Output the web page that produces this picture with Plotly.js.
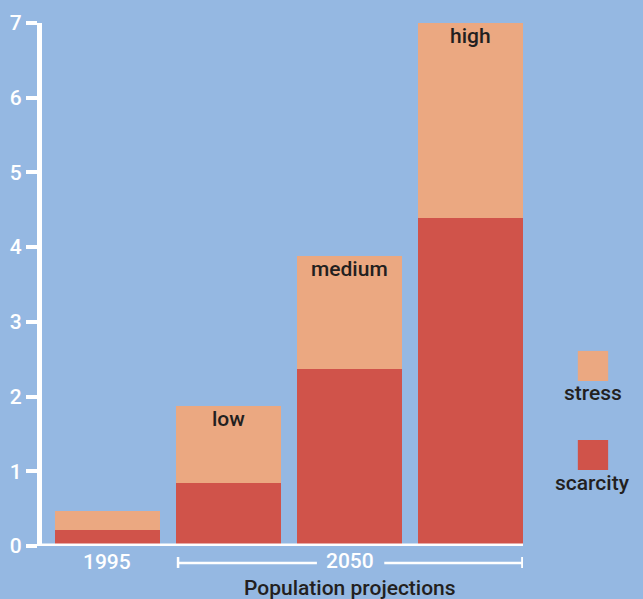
<!DOCTYPE html>
<html>
<head>
<meta charset="utf-8">
<script src="https://cdn.plot.ly/plotly-3.0.1.min.js"></script>
<style>html,body{margin:0;padding:0;background:#95b8e2;}#chart{width:643px;height:599px;}</style>
</head>
<body>
<div id="chart"></div>
<script>
// Data
var categories = ['1995', 'low', 'medium', 'high'];
var scarcity = [0.21, 0.84, 2.37, 4.39];
var stress = [0.26, 1.04, 1.51, 2.61];
var barLabels = ['', 'low', 'medium', 'high'];
var yTicks = [0, 1, 2, 3, 4, 5, 6, 7];

var bg = '#95b8e2';
var cScar = '#d0534a';
var cStress = '#eba881';
var dark = '#231f20';
var FONT = 'Roboto, "Noto Sans", sans-serif';

var xIdx = categories.map(function(c, i){ return i; });

var traces = [
  {type: 'bar', x: xIdx, y: scarcity, name: 'scarcity', marker: {color: cScar, line: {width: 0}}, width: 0.868, hoverinfo: 'none'},
  {type: 'bar', x: xIdx, y: stress, name: 'stress', marker: {color: cStress, line: {width: 0}}, width: 0.868, hoverinfo: 'none'}
];

var annotations = [];
xIdx.forEach(function(i){
  if (barLabels[i]) {
    annotations.push({x: i, y: scarcity[i] + stress[i], xref: 'x', yref: 'y', text: barLabels[i],
      showarrow: false, xanchor: 'center', yanchor: 'top', yshift: 1, font: {family: FONT, size: 21, weight: 500, color: dark}});
  }
});
annotations.push({x: 0, xref: 'x', y: -0.0300, yref: 'paper', text: categories[0], showarrow: false,
  xanchor: 'center', yanchor: 'middle', font: {family: FONT, size: 21, weight: 500, color: '#ffffff'}});
annotations.push({x: 2.0, xref: 'x', y: -0.0290, yref: 'paper', text: '2050', showarrow: false,
  xanchor: 'center', yanchor: 'middle', font: {family: FONT, size: 21, weight: 500, color: '#ffffff'}});
annotations.push({x: 2.0, xref: 'x', y: -0.0800, yref: 'paper', text: 'Population projections', showarrow: false,
  xanchor: 'center', yanchor: 'middle', font: {family: FONT, size: 21, weight: 500, color: dark}});
annotations.push({x: 1.1455, xref: 'paper', y: 0.2925, yref: 'paper', text: 'stress', showarrow: false,
  xanchor: 'center', yanchor: 'middle', font: {family: FONT, size: 21, weight: 500, color: dark}});
annotations.push({x: 1.1455, xref: 'paper', y: 0.1205, yref: 'paper', text: 'scarcity', showarrow: false,
  xanchor: 'center', yanchor: 'middle', font: {family: FONT, size: 21, weight: 500, color: dark}});

var white = '#ffffff';
var shapes = [
  // baseline
  {type: 'line', xref: 'paper', yref: 'y', x0: -0.004, x1: 1.0, y0: 0, y1: 0, line: {color: white, width: 5}, layer: 'above'},
  // 2050 bracket
  {type: 'line', xref: 'x', yref: 'paper', x0: 0.583, x1: 1.729, y0: -0.0325, y1: -0.0325, line: {color: white, width: 2.5}},
  {type: 'line', xref: 'x', yref: 'paper', x0: 2.285, x1: 3.425, y0: -0.0325, y1: -0.0325, line: {color: white, width: 2.5}},
  {type: 'line', xref: 'x', yref: 'paper', x0: 0.583, x1: 0.583, y0: -0.021, y1: -0.042, line: {color: white, width: 2.5}},
  {type: 'line', xref: 'x', yref: 'paper', x0: 3.425, x1: 3.425, y0: -0.021, y1: -0.042, line: {color: white, width: 2.5}},
  // legend swatches
  {type: 'rect', xref: 'paper', yref: 'paper', x0: 1.114, x1: 1.177, y0: 0.3155, y1: 0.373, fillcolor: cStress, line: {width: 0}},
  {type: 'rect', xref: 'paper', yref: 'paper', x0: 1.114, x1: 1.177, y0: 0.1453, y1: 0.2027, fillcolor: cScar, line: {width: 0}}
];

var layout = {
  width: 643, height: 599,
  paper_bgcolor: bg, plot_bgcolor: bg,
  margin: {l: 42, r: 120, t: 23, b: 53},
  barmode: 'stack',
  showlegend: false,
  font: {family: FONT, size: 20, color: white},
  xaxis: {range: [-0.54, 3.43], showticklabels: false, ticks: '', showgrid: false, zeroline: false, showline: false, fixedrange: true},
  yaxis: {range: [0, 7], tickvals: yTicks, ticktext: yTicks.map(String), showgrid: false, zeroline: false,
    showline: true, linecolor: white, linewidth: 5, ticks: 'outside', ticklen: 11, tickwidth: 4, tickcolor: white,
    tickfont: {family: FONT, size: 21, weight: 500, color: white}, fixedrange: true},
  annotations: annotations,
  shapes: shapes
};

Plotly.newPlot('chart', traces, layout, {displayModeBar: false, staticPlot: true});
</script>
</body>
</html>
